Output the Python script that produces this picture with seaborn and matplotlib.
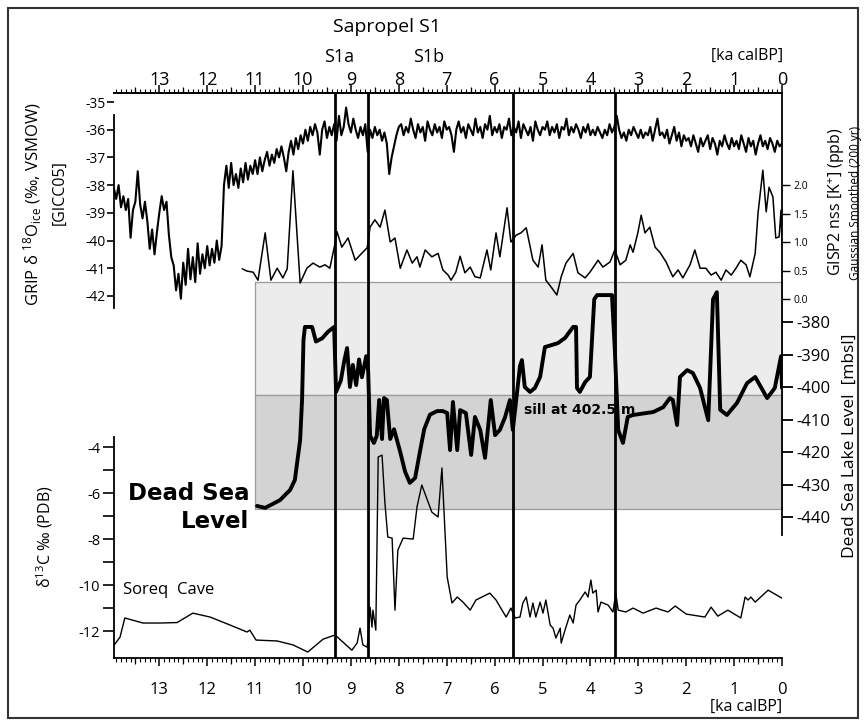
import numpy as np
import matplotlib
matplotlib.use('Agg')
import matplotlib.pyplot as plt
import seaborn as sns
from matplotlib.patches import Rectangle
from matplotlib.ticker import MultipleLocator, FormatStrFormatter

sns.set_style('white')
plt.rcParams['font.family'] = ['Open Sans', 'DejaVu Sans']
plt.rcParams['axes.unicode_minus'] = False
plt.rcParams['text.color'] = 'black'
plt.rcParams['axes.edgecolor'] = 'black'
plt.rcParams['xtick.color'] = 'black'
plt.rcParams['ytick.color'] = 'black'
plt.rcParams['axes.labelcolor'] = 'black'

# GRIP d18O ice (permil VSMOW), 50 yr steps, 13.95 ka -> 0 ka
grip_age = np.round(np.arange(13.95, -0.01, -0.05), 2)
grip_d18o = [
    -38.1, -38.5, -38.0, -38.8, -38.4, -38.9, -38.5, -39.9, -38.9, -38.6, -37.5, -38.7, -39.2, -38.6, -39.3, -40.3, -39.6, -40.5, -39.7, -39.0,
    -38.4, -38.9, -38.6, -39.8, -40.6, -40.9, -41.8, -41.2, -42.1, -40.8, -41.6, -40.3, -41.4, -40.6, -41.5, -40.1, -41.2, -40.5, -41.0, -40.2,
    -40.9, -40.3, -40.8, -40.0, -40.7, -40.2, -38.0, -37.3, -38.1, -37.2, -38.0, -37.6, -38.1, -37.4, -37.9, -37.2, -37.8, -37.3, -37.6, -37.1,
    -37.6, -37.0, -37.5, -37.1, -36.8, -37.3, -36.9, -37.2, -36.7, -37.0, -36.6, -37.0, -37.5, -36.8, -36.4, -36.9, -36.3, -36.7, -36.2, -36.5,
    -36.0, -36.4, -35.9, -36.2, -35.8, -36.1, -36.9, -36.0, -35.7, -36.3, -35.9, -36.2, -35.8, -36.4, -35.5, -36.2, -35.9, -35.2, -35.8, -36.1,
    -35.6, -36.0, -36.3, -35.9, -36.2, -35.8, -36.8, -36.0, -36.3, -35.9, -36.2, -36.0, -36.4, -36.1, -36.5, -37.6, -37.0, -36.6, -36.2, -35.9,
    -35.8, -36.2, -35.9, -36.1, -35.6, -36.0, -36.3, -35.8, -36.1, -35.9, -36.4, -35.7, -36.0, -36.2, -35.8, -36.1, -35.9, -36.3, -35.7, -36.0,
    -35.9, -36.2, -36.8, -36.0, -35.7, -36.1, -35.9, -36.3, -35.8, -36.0, -36.2, -35.6, -36.1, -35.9, -36.3, -35.8, -36.0, -35.5, -36.2, -35.9,
    -36.1, -35.8, -36.3, -35.9, -36.0, -35.6, -36.2, -35.9, -36.1, -35.7, -36.3, -35.8, -36.0, -36.2, -35.9, -36.4, -35.7, -36.0, -36.2, -35.9,
    -36.0, -35.7, -36.2, -35.9, -36.1, -35.8, -36.3, -35.9, -36.0, -35.6, -36.2, -35.9, -36.1, -35.8, -36.0, -36.3, -35.9, -36.1, -35.8, -36.2,
    -36.0, -36.2, -35.9, -36.1, -36.3, -36.0, -36.2, -35.8, -36.1, -35.9, -35.5, -36.0, -36.3, -36.1, -36.4, -36.0, -36.2, -35.9, -36.1, -36.3,
    -36.0, -36.3, -36.1, -36.2, -35.9, -36.4, -36.0, -35.6, -36.2, -36.1, -36.3, -36.0, -36.5, -36.2, -35.9, -36.4, -36.1, -36.6, -36.2, -36.4,
    -36.3, -36.6, -36.2, -36.5, -36.8, -36.3, -36.6, -36.4, -36.2, -36.7, -36.3, -36.5, -36.9, -36.4, -36.6, -36.2, -36.5, -36.7, -36.3, -36.6,
    -36.4, -36.7, -36.2, -36.5, -36.8, -36.3, -36.6, -36.4, -36.9, -36.5, -36.2, -36.6, -36.4, -36.7, -36.3, -36.5, -36.8, -36.4, -36.6, -36.5,
]

# GISP2 nss K+ (ppb), Gaussian smoothed
gisp_age = [11.27, 11.17, 11.04, 10.94, 10.79, 10.67, 10.54, 10.42, 10.33, 10.21, 10.06, 9.92, 9.79, 9.65, 9.54,
            9.44, 9.33, 9.29, 9.19, 9.06, 8.91, 8.81, 8.66, 8.60, 8.50, 8.39, 8.29, 8.18, 8.08, 7.97,
            7.83, 7.72, 7.62, 7.56, 7.45, 7.31, 7.18, 7.08, 6.97, 6.91, 6.81, 6.72, 6.62, 6.51, 6.41,
            6.30, 6.16, 6.08, 5.97, 5.89, 5.74, 5.66, 5.55, 5.45, 5.34, 5.20, 5.09, 5.01, 4.93, 4.82,
            4.70, 4.61, 4.51, 4.36, 4.26, 4.11, 4.01, 3.84, 3.74, 3.59, 3.49, 3.38, 3.26, 3.17, 3.11,
            3.01, 2.94, 2.86, 2.76, 2.65, 2.55, 2.42, 2.28, 2.17, 2.07, 1.92, 1.82, 1.71, 1.59, 1.48,
            1.38, 1.27, 1.17, 1.06, 0.96, 0.86, 0.75, 0.67, 0.56, 0.50, 0.40, 0.33, 0.27, 0.19, 0.13,
            0.06, 0.02, 0.00]
gisp_k = [0.53, 0.49, 0.47, 0.33, 1.16, 0.33, 0.54, 0.37, 0.53, 2.25, 0.28, 0.54, 0.63, 0.56, 0.60,
          0.54, 0.98, 1.18, 0.91, 1.07, 0.68, 0.77, 0.90, 1.26, 1.39, 1.26, 1.56, 1.00, 1.07, 0.54,
          0.86, 0.63, 0.74, 0.56, 0.86, 0.74, 0.80, 0.51, 0.42, 0.33, 0.47, 0.75, 0.46, 0.56, 0.39,
          0.37, 0.86, 0.51, 1.16, 0.74, 1.60, 1.00, 1.12, 1.16, 1.25, 0.68, 0.56, 0.95, 0.33, 0.21,
          0.07, 0.39, 0.63, 0.80, 0.46, 0.37, 0.47, 0.68, 0.56, 0.65, 0.86, 0.60, 0.68, 0.95, 0.82,
          1.16, 1.47, 1.16, 1.26, 0.91, 0.82, 0.65, 0.39, 0.51, 0.37, 0.60, 0.86, 0.54, 0.54, 0.42,
          0.47, 0.33, 0.51, 0.42, 0.54, 0.68, 0.60, 0.39, 0.80, 1.51, 2.26, 1.53, 1.96, 1.79, 1.07,
          1.09, 1.56, 0.95]

# Dead Sea lake level (m below sea level)
ds_age = [10.96, 10.79, 10.48, 10.27, 10.17, 10.06, 10.02, 9.99, 9.96, 9.81,
          9.73, 9.60, 9.48, 9.35, 9.31, 9.21, 9.14, 9.08, 9.02, 8.96,
          8.89, 8.83, 8.77, 8.68, 8.64, 8.60, 8.52, 8.46, 8.41, 8.35,
          8.31, 8.25, 8.18, 8.10, 7.97, 7.87, 7.77, 7.66, 7.56, 7.47,
          7.35, 7.20, 7.08, 6.99, 6.93, 6.87, 6.78, 6.72, 6.60, 6.49,
          6.41, 6.30, 6.20, 6.08, 5.99, 5.89, 5.78, 5.68, 5.62, 5.53,
          5.47, 5.43, 5.37, 5.26, 5.16, 5.05, 4.95, 4.68, 4.53, 4.36,
          4.30, 4.28, 4.22, 4.11, 4.01, 3.92, 3.86, 3.55, 3.49, 3.42,
          3.32, 3.22, 3.11, 2.69, 2.48, 2.34, 2.28, 2.19, 2.13, 1.98,
          1.86, 1.71, 1.54, 1.44, 1.36, 1.29, 1.15, 0.94, 0.73, 0.56,
          0.31, 0.15, 0.02, 0.00]
ds_level = [-436.6, -437.2, -434.8, -431.7, -428.6, -416.3, -404.0, -385.5, -381.5, -381.5,
            -386.0, -385.0, -383.0, -381.5, -401.5, -398.0, -392.0, -388.0, -400.0, -393.2,
            -399.4, -391.5, -397.0, -390.5, -395.0, -415.0, -417.2, -415.0, -404.0, -416.0,
            -403.4, -404.0, -416.0, -413.0, -420.0, -426.0, -429.5, -428.0, -420.0, -413.0,
            -408.5, -407.4, -407.4, -408.0, -419.4, -404.6, -419.4, -407.1, -408.0, -420.9,
            -409.2, -413.2, -421.8, -404.0, -414.8, -413.2, -409.2, -404.0, -413.2, -401.5,
            -393.5, -391.7, -400.0, -401.5, -400.3, -396.9, -387.7, -386.5, -384.9, -381.5,
            -381.5, -400.3, -401.5, -398.5, -396.9, -373.0, -371.7, -371.7, -388.6, -413.2,
            -417.2, -409.2, -408.6, -407.7, -406.2, -403.4, -404.0, -411.7, -396.9, -394.8,
            -395.7, -400.3, -410.2, -373.0, -370.8, -407.0, -408.6, -404.9, -398.8, -396.9,
            -403.4, -400.3, -390.5, -400.3]

# Soreq Cave d13C (permil PDB)
soreq_age = [13.94, 13.82, 13.72, 13.34, 12.99, 12.63, 12.30, 11.94, 11.52, 11.17,
             11.11, 10.98, 10.54, 10.21, 9.90, 9.58, 9.33, 8.98, 8.87, 8.81,
             8.75, 8.66, 8.64, 8.60, 8.56, 8.54, 8.48, 8.43, 8.35, 8.29,
             8.23, 8.14, 8.08, 8.02, 7.91, 7.70, 7.62, 7.52, 7.31, 7.18,
             7.10, 6.99, 6.89, 6.78, 6.66, 6.51, 6.39, 6.10, 5.97, 5.76,
             5.66, 5.57, 5.47, 5.41, 5.34, 5.26, 5.20, 5.14, 5.05, 4.99,
             4.93, 4.84, 4.78, 4.72, 4.63, 4.61, 4.53, 4.43, 4.36, 4.30,
             4.22, 4.11, 4.05, 3.99, 3.95, 3.88, 3.84, 3.78, 3.63, 3.53,
             3.47, 3.42, 3.26, 3.11, 2.90, 2.63, 2.38, 2.23, 2.00, 1.61,
             1.48, 1.34, 1.13, 0.86, 0.77, 0.71, 0.65, 0.56, 0.29, 0.00]
soreq_d13c = [-12.60, -12.26, -11.43, -11.65, -11.65, -11.63, -11.22, -11.39, -11.74, -12.04,
              -11.96, -12.39, -12.43, -12.60, -12.91, -12.35, -12.17, -12.83, -12.52, -11.87,
              -12.60, -12.70, -12.26, -10.96, -11.83, -11.09, -11.96, -4.43, -4.35, -6.43,
              -7.91, -7.96, -11.09, -8.48, -7.96, -8.00, -6.60, -5.65, -6.83, -7.04,
              -4.91, -9.65, -10.78, -10.52, -10.74, -11.09, -10.65, -10.35, -10.65, -11.39,
              -11.00, -11.43, -11.39, -10.78, -10.52, -11.39, -10.78, -11.39, -10.74, -11.22,
              -10.65, -11.74, -11.87, -12.30, -11.87, -12.52, -11.96, -11.30, -11.65, -10.87,
              -10.65, -10.30, -10.52, -9.78, -10.35, -10.22, -11.17, -10.74, -10.87, -11.17,
              -10.35, -11.09, -11.17, -11.00, -11.22, -11.00, -11.17, -10.91, -11.26, -11.39,
              -10.96, -11.35, -11.09, -11.43, -10.52, -10.65, -10.52, -10.74, -10.22, -10.57]

sapropel_lines = [9.33, 8.64, 5.62, 3.49]
sill_level = -402.5
band_top = -367.7
band_bottom = -437.5

W, H = 866, 726
fig = plt.figure(figsize=(W / 100, H / 100), dpi=100)
rect = [114 / W, 1 - 658 / H, 668 / W, 565 / H]
XLIM = (13.946, 0)


def ftext(x, y, s, **kw):
    # place text at pixel position of the 866x726 canvas
    fig.text(x / W, 1 - y / H, s, **kw)


# base axes: Dead Sea level, shading, sapropel lines, time axes
ax = fig.add_axes(rect)
ax.set_xlim(*XLIM)
ax.set_ylim(-483.4, -309.5)
ax.fill_between([11, 0], band_top, sill_level, color='#ececec', edgecolor='#9a9a9a', lw=0.9, zorder=0)
ax.fill_between([11, 0], sill_level, band_bottom, color='#d3d3d3', edgecolor='#9a9a9a', lw=0.9, zorder=0)
for a in sapropel_lines:
    ax.axvline(a, color='black', lw=2, zorder=5)
sns.lineplot(x=ds_age, y=ds_level, ax=ax, color='black', lw=2.8, estimator=None, sort=False, zorder=3)

ax.spines['left'].set_visible(False)
ax.spines['right'].set_bounds(-445.5, -309.5)
for s in ['top', 'bottom', 'right']:
    ax.spines[s].set_linewidth(1.3)
ax.yaxis.tick_right()
ax.set_yticks(range(-440, -379, 10))
ax.tick_params(axis='y', direction='out', length=8, width=1.3, labelsize=12, pad=2, right=True, left=False)
ax.set_xticks(range(0, 14))
ax.xaxis.set_minor_locator(MultipleLocator(0.1))
ax.tick_params(axis='x', which='major', direction='out', length=6, width=1.1, labelsize=12, pad=11,
               bottom=True, top=False)
ax.tick_params(axis='x', which='minor', direction='out', length=3, width=0.8, bottom=True, top=False)
ax.set_xlabel('')
ax.set_ylabel('')

top = ax.secondary_xaxis('top')
top.set_xticks(range(0, 14))
top.xaxis.set_minor_locator(MultipleLocator(0.1))
top.tick_params(axis='x', which='major', direction='out', length=6, width=1.1, labelsize=13, pad=-3)
top.tick_params(axis='x', which='minor', direction='out', length=3, width=0.8)
top.spines['top'].set_linewidth(1.3)

halves = [i + 0.5 for i in range(14)]
for side in ['top', 'bottom']:
    mid = ax.secondary_xaxis(side)
    mid.set_xticks(halves)
    mid.set_xticklabels([])
    mid.tick_params(axis='x', direction='out', length=4.5, width=0.9)
    mid.spines[side].set_visible(False)

# GRIP d18O
axg = fig.add_axes(rect, facecolor='none')
sns.lineplot(x=grip_age, y=grip_d18o, ax=axg, color='black', lw=1.5, estimator=None, sort=False)
axg.set_xlim(*XLIM)
axg.set_ylim(-55.07, -34.675)
for s in ['top', 'right', 'bottom']:
    axg.spines[s].set_visible(False)
axg.spines['left'].set_bounds(-42.45, -35.47)
axg.spines['left'].set_linewidth(1.3)
axg.set_yticks(range(-42, -34))
axg.set_xticks([])
axg.tick_params(axis='y', direction='out', length=5, width=1.2, labelsize=10, pad=1, left=True)
axg.set_xlabel('')
axg.set_ylabel('')

# GISP2 nss K+
axk = fig.add_axes(rect, facecolor='none')
sns.lineplot(x=gisp_age, y=gisp_k, ax=axk, color='black', lw=1.1, estimator=None, sort=False)
axk.set_xlim(*XLIM)
axk.set_ylim(-6.298, 3.614)
for s in axk.spines.values():
    s.set_visible(False)
axk.yaxis.tick_right()
axk.set_yticks([0, 0.5, 1.0, 1.5, 2.0])
axk.yaxis.set_major_formatter(FormatStrFormatter('%.1f'))
axk.set_xticks([])
axk.tick_params(axis='y', direction='out', length=6, width=1, labelsize=7.5, pad=2, right=True, left=False)
axk.set_xlabel('')
axk.set_ylabel('')

# Soreq Cave d13C
axc = fig.add_axes(rect, facecolor='none')
sns.lineplot(x=soreq_age, y=soreq_d13c, ax=axc, color='black', lw=1.0, estimator=None, sort=False)
axc.set_xlim(*XLIM)
axc.set_ylim(-13.17, 11.39)
for s in ['top', 'right', 'bottom']:
    axc.spines[s].set_visible(False)
axc.spines['left'].set_bounds(-13.17, -3.57)
axc.spines['left'].set_linewidth(1.3)
axc.set_yticks(range(-12, -3))
axc.set_yticklabels([str(v) if v % 2 == 0 else '' for v in range(-12, -3)])
axc.set_xticks([])
axc.tick_params(axis='y', direction='out', length=8, width=1.2, labelsize=10.5, pad=2, left=True)
axc.set_xlabel('')
axc.set_ylabel('')

# annotations
ftext(387, 27, 'Sapropel S1', fontsize=14, ha='center', va='center')
ftext(339, 57, 'S1a', fontsize=13, ha='center', va='center')
ftext(429, 57, 'S1b', fontsize=13, ha='center', va='center')
ftext(747, 56, '[ka calBP]', fontsize=11.5, ha='center', va='center')
ftext(746, 707, '[ka calBP]', fontsize=11.5, ha='center', va='center')
ftext(249, 493, 'Dead Sea', fontsize=16.5, fontweight='heavy', family=['DejaVu Sans'], ha='right', va='center')
ftext(249, 521, 'Level', fontsize=16.5, fontweight='heavy', family=['DejaVu Sans'], ha='right', va='center')
ftext(123, 590, 'Soreq  Cave', fontsize=12, ha='left', va='center')
ftext(524, 410, 'sill at 402.5 m', fontsize=10, fontweight='bold', family=['DejaVu Sans'], ha='left', va='center')

ftext(33, 204, r'GRIP δ $\mathregular{^{18}}$O$\mathregular{_{ice}}$ (‰, VSMOW)', fontsize=12,
      rotation=90, ha='center', va='center')
ftext(60, 193, '[GICC05]', fontsize=11.5, rotation=90, ha='center', va='center')
ftext(45, 537, r'δ$\mathregular{^{13}}$C ‰ (PDB)', fontsize=11.5, rotation=90, ha='center', va='center')
ftext(836, 202, r'GISP2 nss [K$\mathregular{^{+}}$] (ppb)', fontsize=11.5, rotation=90, ha='center', va='center')
ftext(855, 203, 'Gaussian Smoothed (200 yr)', fontsize=8.5, rotation=90, ha='center', va='center')
ftext(850, 446, 'Dead Sea Lake Level  [mbsl]', fontsize=12.5, rotation=90, ha='center', va='center')

fig.add_artist(Rectangle((8 / W, 1 - 718 / H), 850 / W, 710 / H, transform=fig.transFigure,
                         fill=False, lw=1.5, ec='#333333'))

fig.savefig('out.png', dpi=100)
